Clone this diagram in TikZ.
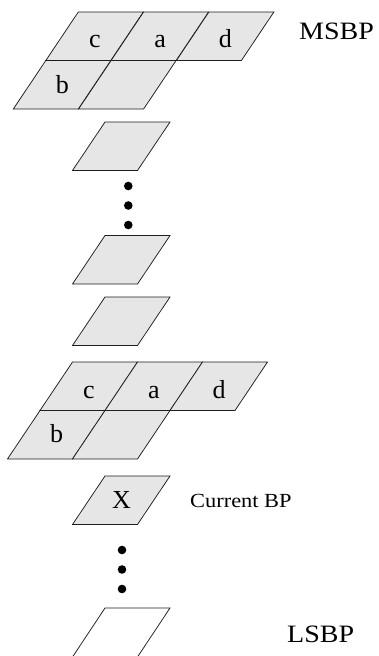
\documentclass[tikz,border=0pt]{standalone}
\usepackage{fontspec}
\setmainfont{Liberation Serif}
\newfontfamily\widefont[FakeStretch=1.12]{Liberation Serif}
\definecolor{cellgray}{RGB}{230,230,230}
\definecolor{edgegray}{RGB}{30,30,30}
% one bit-plane cell: parallelogram with its top-left corner at (#1,#2)
\newcommand\bpcell[2]{%
  \filldraw[cellstyle] (#1,#2) -- ++(65,0) -- ++(-32.5,48.5) -- ++(-65,0) -- cycle;}
\tikzset{
  cellstyle/.style={fill=cellgray, draw=edgegray, line width=0.75pt, line join=miter},
  letter/.style={inner sep=0pt, anchor=base, font=\fontsize{26}{26}\selectfont},
  tag/.style={inner sep=0pt, anchor=base west, font=\widefont\fontsize{25}{25}\selectfont},
  smalltag/.style={inner sep=0pt, anchor=base west, font=\widefont\fontsize{20}{20}\selectfont},
  dot/.style={circle, fill=black, inner sep=0pt, minimum size=8.6pt}
}
\begin{document}
\begin{tikzpicture}[x=1pt,y=-1pt]
\useasboundingbox (0,0) rectangle (378,656);

% most significant bit plane: neighbourhood c a d / b
\bpcell{78.3}{12}
\bpcell{143.6}{12}
\bpcell{208.9}{12}
\bpcell{45.8}{60.5}
\bpcell{111.1}{60.5}
\node[letter] (c1) at (94.8,47) {c};
\node[letter] (a1) at (160.1,47) {a};
\node[letter] (d1) at (225.4,47) {d};
\node[letter] (b1) at (62.3,93) {b};
\node[tag] (msbp) at (299,39) {MSBP};

% intermediate planes
\bpcell{105}{122}
\node[dot] (p1) at (128.3,186) {};
\node[dot] (p2) at (128.3,205.5) {};
\node[dot] (p3) at (128.3,225) {};
\bpcell{105}{235.5}
\bpcell{105}{297}

% plane above the current one: neighbourhood c a d / b
\bpcell{72.5}{362}
\bpcell{137.5}{362}
\bpcell{202.5}{362}
\bpcell{40}{410.5}
\bpcell{105}{410.5}
\node[letter] (c2) at (89,398) {c};
\node[letter] (a2) at (154,398) {a};
\node[letter] (d2) at (219,398) {d};
\node[letter] (b2) at (56.5,442) {b};

% current bit plane
\bpcell{105}{476}
\node[letter] (x) at (121.5,508) {X};
\node[smalltag] (cur) at (190,507) {Current BP};

\node[dot] (q1) at (122,550) {};
\node[dot] (q2) at (122,569.5) {};
\node[dot] (q3) at (122,589) {};

% least significant bit plane (open at the page edge)
\draw[draw=edgegray, line width=0.75pt] (72.5,657) -- (105,608) -- (170,608) -- (137.5,657);
\node[tag] (lsbp) at (287,642) {LSBP};
\end{tikzpicture}
\end{document}
